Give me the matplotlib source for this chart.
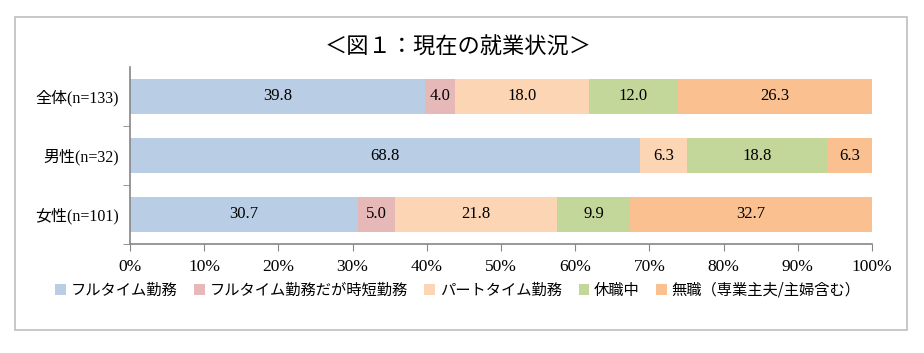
import matplotlib
matplotlib.use("Agg")
import matplotlib.pyplot as plt
from matplotlib.patches import Rectangle
import numpy as np

plt.rcParams['font.family'] = ['Liberation Serif', 'Noto Sans CJK JP', 'DejaVu Sans']

categories = ['全体(n=133)', '男性(n=32)', '女性(n=101)']
series_names = ['フルタイム勤務', 'フルタイム勤務だが時短勤務', 'パートタイム勤務', '休職中', '無職（専業主夫/主婦含む）']
full_time = [39.8, 68.8, 30.7]
short_time = [4.0, 0.0, 5.0]
part_time = [18.0, 6.3, 21.8]
leave = [12.0, 18.8, 9.9]
jobless = [26.3, 6.3, 32.7]
colors = ['#B9CDE5', '#E6B9B8', '#FCD5B5', '#C4D79B', '#FAC090']
xticks = [0, 10, 20, 30, 40, 50, 60, 70, 80, 90, 100]

W, H = 924, 353
fig = plt.figure(figsize=(W / 100, H / 100), dpi=100)

# frame
fig.patches.append(Rectangle((15 / W, 1 - 330 / H), (907 - 15) / W, (330 - 17) / H,
                             transform=fig.transFigure, fill=False,
                             edgecolor='#BFBFBF', linewidth=1.2))

ax = fig.add_axes([130 / W, 1 - 244 / H, (872 - 130) / W, (244 - 67) / H])

data = [full_time, short_time, part_time, leave, jobless]
y = np.arange(len(categories))
left = np.zeros(len(categories))
handles = []
for vals, c, name in zip(data, colors, series_names):
    vals = np.array(vals)
    b = ax.barh(y, vals, left=left, height=0.61, color=c, label=name)
    handles.append(b)
    for yi, (l, v) in enumerate(zip(left, vals)):
        if v > 0:
            ax.text(min(l + v / 2, (l + 100) / 2), yi, f'{v:.1f}', ha='center', va='center',
                    fontsize=12, family=['Liberation Serif'])
    left = left + vals

ax.set_xlim(0, 100)
ax.set_ylim(2.5, -0.5)
ax.set_xticks(xticks)
ax.set_xticklabels([f'{t}%' for t in xticks], fontsize=12.5)
ax.set_yticks(y)
ax.set_yticklabels(categories, fontsize=11.5)
ax.set_yticks([0.5, 1.5, 2.5], minor=True)
ax.tick_params(axis='y', which='major', length=0, pad=8)
ax.tick_params(axis='y', which='minor', length=5, color='#868686')
ax.tick_params(axis='x', length=5, color='#868686', pad=6)
for s in ['top', 'right']:
    ax.spines[s].set_visible(False)
for s in ['left', 'bottom']:
    ax.spines[s].set_color('#868686')
    ax.spines[s].set_linewidth(1.2)

fig.text(458 / W, 1 - 47 / H, '＜図１：現在の就業状況＞', ha='center', va='center',
         fontsize=16, family=['Noto Sans CJK JP'])

fig.legend(handles=handles, labels=series_names, loc='center', bbox_to_anchor=(458 / W, 1 - 290 / H),
           ncol=5, frameon=False, handlelength=0.7, handleheight=0.7,
           handletextpad=0.3, columnspacing=1.1, prop={'family': ['Noto Sans CJK JP'], 'size': 11})

fig.savefig('out.png', dpi=100)
